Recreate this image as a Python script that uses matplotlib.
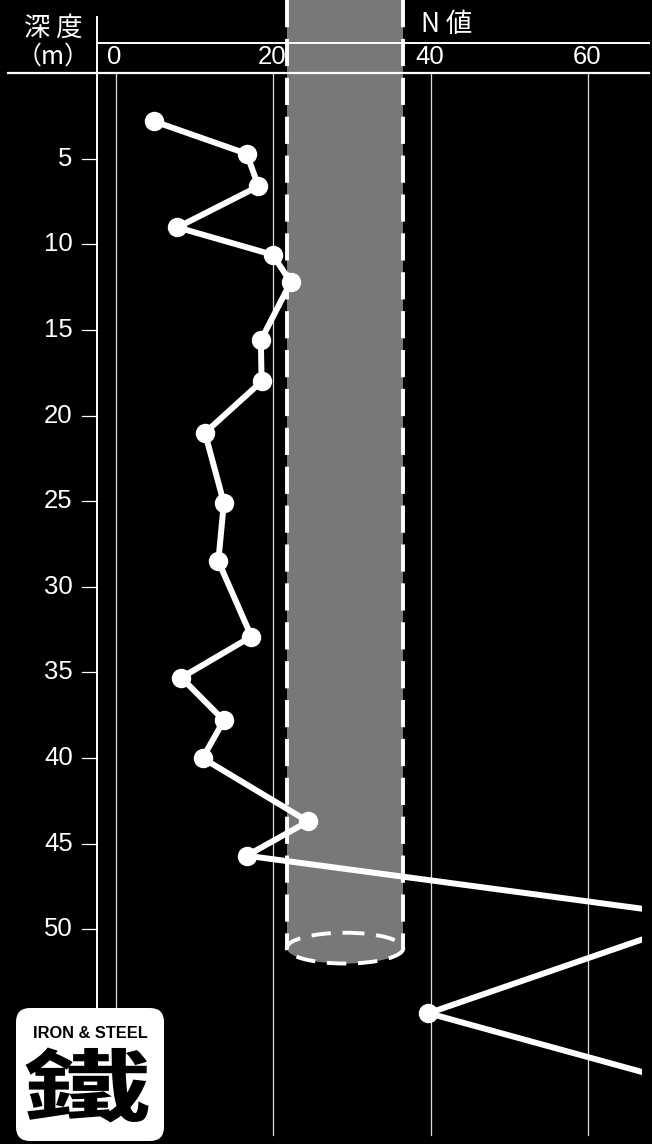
"""N-value (SPT) profile against depth, with a pile drawn in the column."""
import matplotlib
matplotlib.use("Agg")
import matplotlib.pyplot as plt
from matplotlib.patches import Rectangle, Ellipse, FancyBboxPatch, PathPatch
from matplotlib.textpath import TextPath
from matplotlib.font_manager import FontProperties
from matplotlib.transforms import Affine2D

# measured points (depth in m, N value); the 75 and 80 run off the right edge
depth = [2.8, 4.7, 6.6, 9.0, 10.6, 12.2, 15.6, 18.0, 21.0, 25.1, 28.5, 32.9,
         35.3, 37.8, 40.0, 43.7, 45.7, 49.3, 54.9, 60.0]
n_value = [4.8, 16.6, 18.1, 7.8, 19.9, 22.2, 18.4, 18.5, 11.3, 13.7, 13.0, 17.2,
           8.3, 13.7, 11.0, 24.4, 16.6, 75.0, 39.7, 80.0]

n_ticks = [0, 20, 40, 60]
depth_ticks = [5, 10, 15, 20, 25, 30, 35, 40, 45, 50]

pile_left, pile_right = 21.7, 36.5
pile_tip = 51.1

WHITE = "#ffffff"
BLACK = "#000000"
GREY = "#787878"
NUM_FONT = ["Liberation Sans", "DejaVu Sans"]
JP_FONT = ["Noto Sans CJK JP", "DejaVu Sans"]

# figure-wide data window (pixel 0..652 / 0..1144)
X_LO, X_HI = -14.74, 68.1
Y_TOP, Y_BOT = -4.28, 62.54
AXIS_X = -2.41      # depth axis line
CLIP_X = 66.8       # right edge where the curve is cut


def build():
    fig = plt.figure(figsize=(6.52, 11.44), dpi=100, facecolor=BLACK)
    ax = fig.add_axes([0, 0, 1, 1])
    ax.set_facecolor(BLACK)
    ax.set_xlim(X_LO, X_HI)
    ax.set_ylim(Y_BOT, Y_TOP)
    ax.axis("off")

    # vertical grid
    for t in n_ticks:
        ax.plot([t, t], [0, 62.0], color="#dcdcdc", lw=0.9, zorder=1)
        ax.text(t - 0.2, -0.93, str(t), color=WHITE, fontsize=18.5, family=NUM_FONT,
                ha="center", va="center", zorder=5)

    # depth axis
    ax.plot([AXIS_X, AXIS_X], [-3.27, 54.6], color=WHITE, lw=1.4, zorder=4)
    for d in depth_ticks:
        ax.plot([-4.32, AXIS_X], [d, d], color=WHITE, lw=0.9, zorder=4)
        ax.text(-5.5, d, str(d), color=WHITE, fontsize=18.5, family=NUM_FONT,
                ha="right", va="center", zorder=5)

    # header rules
    ax.plot([-13.7, 67.7], [0, 0], color=WHITE, lw=1.6, zorder=4)
    ax.plot([AXIS_X, 67.7], [-1.77, -1.77], color=WHITE, lw=1.4, zorder=4)
    ax.text(-8.0, -2.64, "深 度", color=WHITE, fontsize=19, family=JP_FONT,
            ha="center", va="center")
    ax.text(-8.0, -0.98, "（m）", color=WHITE, fontsize=18, family=JP_FONT,
            ha="center", va="center")
    ax.text(38.7, -2.82, "N 値", color=WHITE, fontsize=19, family=JP_FONT,
            ha="left", va="center")

    # pile
    width = pile_right - pile_left
    ax.add_patch(Rectangle((pile_left, Y_TOP), width, pile_tip - Y_TOP,
                           facecolor=GREY, edgecolor="none", zorder=2))
    ax.add_patch(Ellipse(((pile_left + pile_right) / 2, pile_tip), width, 1.8,
                         facecolor=GREY, edgecolor="none", zorder=2))
    ax.add_patch(Ellipse(((pile_left + pile_right) / 2, pile_tip), width, 1.8,
                         facecolor="none", edgecolor=WHITE, lw=2.8,
                         linestyle=(0, (5, 3)), zorder=3))
    for x in (pile_left, pile_right):
        ax.plot([x, x], [Y_TOP, pile_tip], color=WHITE, lw=2.8,
                linestyle=(0, (7, 3)), zorder=3)

    # N-value curve
    clip = Rectangle((X_LO, Y_TOP), CLIP_X - X_LO, Y_BOT - Y_TOP,
                     transform=ax.transData)
    line, = ax.plot(n_value, depth, color=WHITE, lw=4.3, marker="o",
                    markersize=13, markerfacecolor=WHITE, markeredgecolor=WHITE,
                    solid_joinstyle="round", zorder=6)
    line.set_clip_path(clip)

    # IRON & STEEL badge
    lg = fig.add_axes([15 / 652, 2 / 1144, 150 / 652, 135 / 1144])
    lg.set_xlim(0, 150)
    lg.set_ylim(0, 135)
    lg.axis("off")
    lg.add_patch(FancyBboxPatch((1, 1), 148, 133,
                                boxstyle="round,pad=0,rounding_size=14",
                                facecolor=WHITE, edgecolor="none"))
    lg.text(75, 108.5, "IRON & STEEL", color=BLACK, fontsize=11.8,
            family=["Liberation Sans Narrow", "Liberation Sans"],
            fontweight="bold", ha="center", va="center")
    tp = TextPath((0, 0), "鐵", size=100,
                  prop=FontProperties(family="Noto Sans CJK TC", weight="bold"))
    ext = tp.get_extents()
    sx, sy = 123 / ext.width, 75 / ext.height
    tr = (Affine2D().translate(-ext.x0 - ext.width / 2, -ext.y0 - ext.height / 2)
          .scale(sx, sy).translate(72, 57))
    lg.add_patch(PathPatch(tr.transform_path(tp), facecolor=BLACK,
                           edgecolor="none"))

    fig.savefig("out.png", dpi=100, facecolor=BLACK)
    plt.close(fig)


if __name__ == "__main__":
    build()
